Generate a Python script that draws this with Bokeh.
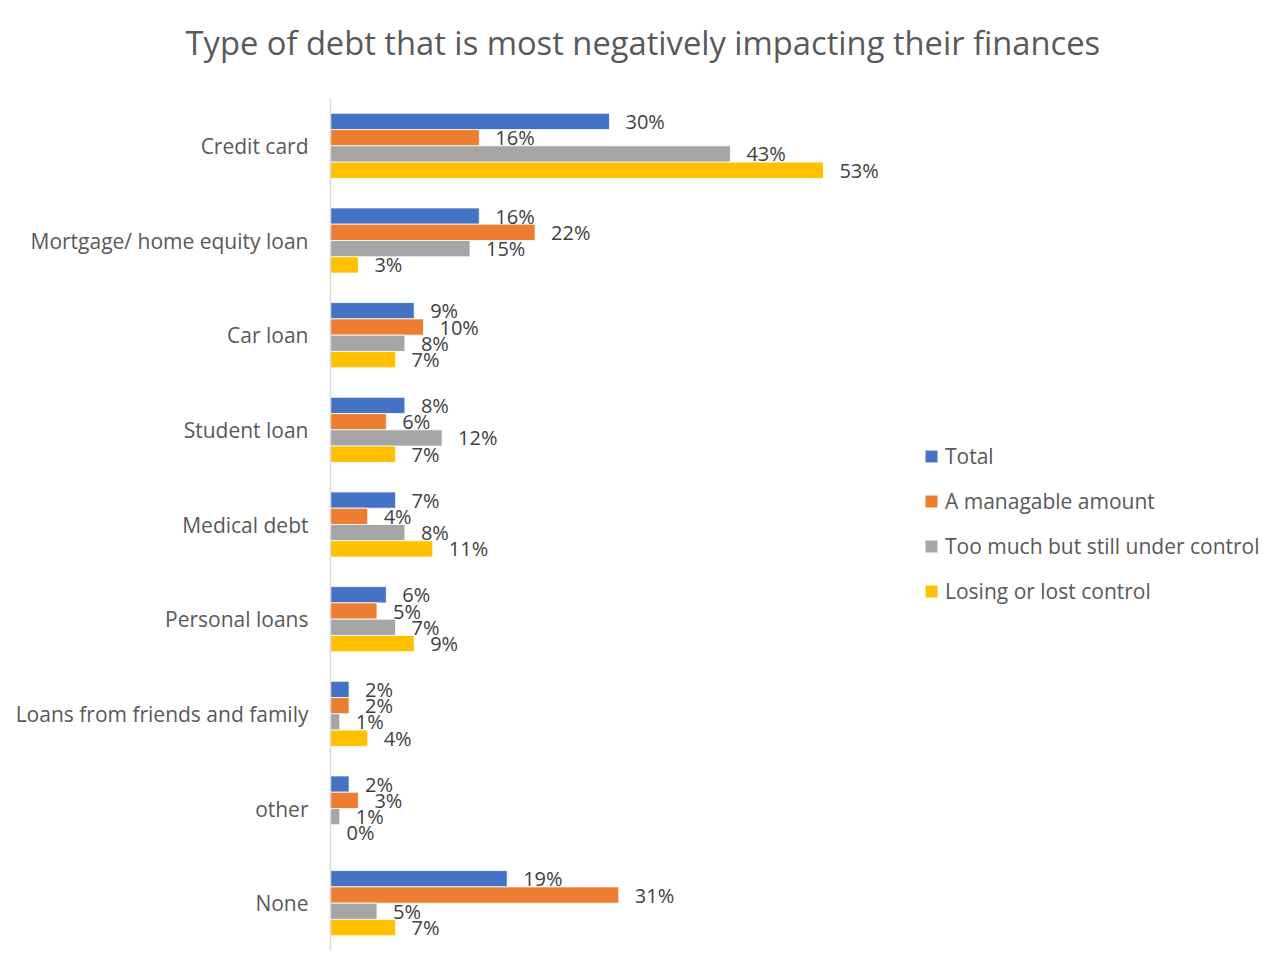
from bokeh.plotting import figure
from bokeh.models import ColumnDataSource, FactorRange, Legend, LegendItem, LabelSet, Title
from bokeh.transform import dodge
from bokeh.core.properties import value
from bokeh.embed import file_html
from bokeh.resources import INLINE

title_text = "Type of debt that is most negatively impacting their finances"
categories = ["Credit card", "Mortgage/ home equity loan", "Car loan", "Student loan",
              "Medical debt", "Personal loans", "Loans from friends and family", "other", "None"]
series_names = ["Total", "A managable amount", "Too much but still under control", "Losing or lost control"]
total = [30, 16, 9, 8, 7, 6, 2, 2, 19]
manageable = [16, 22, 10, 6, 4, 5, 2, 3, 31]
too_much = [43, 15, 8, 12, 8, 7, 1, 1, 5]
losing = [53, 3, 7, 7, 11, 9, 4, 0, 7]
colors = ["#4472C4", "#ED7D31", "#A5A5A5", "#FFC000"]

FONT = "Open Sans"
W, H = 1275, 971
frame_left, frame_right = 330, 1267
top_border, bottom_border = 98, 21
px_per_pct = 9.3
xmax = (frame_right - frame_left) / px_per_pct

p = figure(width=W, height=H, output_backend="svg", toolbar_location=None,
           title=None,
           y_range=FactorRange(*reversed(categories), range_padding=0),
           x_range=(0, xmax),
           min_border_left=frame_left, min_border_right=W - frame_right,
           min_border_top=top_border, min_border_bottom=bottom_border)

# invisible spacer between frame and title, then the title itself
p.add_layout(Title(text=" ", text_font_size="10px", standoff=21, text_color="#FFFFFF"), "above")
p.add_layout(Title(text=title_text, align="left", offset=185 - frame_left, standoff=0,
                   text_font=FONT, text_font_size="32.7px", text_font_style="normal",
                   text_color="#595959"), "above")

p.outline_line_color = None
p.xgrid.grid_line_color = None
p.ygrid.grid_line_color = None
p.xaxis.visible = False
ax = p.yaxis[0]
ax.axis_line_color = "#D9D9D9"
ax.axis_line_width = 1.5
ax.major_tick_line_color = None
ax.minor_tick_line_color = None
ax.major_label_text_font = FONT
ax.major_label_text_font_size = "21px"
ax.major_label_text_color = "#595959"
ax.major_label_standoff = 16

src = ColumnDataSource(dict(cat=categories, s0=total, s1=manageable, s2=too_much, s3=losing,
                            l0=[f"{v}%" for v in total], l1=[f"{v}%" for v in manageable],
                            l2=[f"{v}%" for v in too_much], l3=[f"{v}%" for v in losing]))

bh = 0.172
offsets = [1.5 * bh, 0.5 * bh, -0.5 * bh, -1.5 * bh]
items = []
for i in range(4):
    r = p.hbar(y=dodge("cat", offsets[i], range=p.y_range), right=f"s{i}", left=0, height=bh,
               source=src, fill_color=colors[i], line_color="white", line_width=0.8)
    items.append(LegendItem(label=series_names[i], renderers=[r]))
    lbl = LabelSet(x=f"s{i}", y=dodge("cat", offsets[i], range=p.y_range), text=f"l{i}",
                   source=src, x_offset=16, text_baseline="middle", text_align="left",
                   text_font=value(FONT), text_font_size=value("20px"), text_color="#404040")
    p.add_layout(lbl)

legend = Legend(items=items, location=(593, 345), orientation="vertical",
                glyph_width=16, glyph_height=16, label_standoff=6, spacing=17,
                padding=0, margin=0, border_line_color=None, background_fill_alpha=0,
                label_text_font=FONT, label_text_font_size="21px", label_text_color="#595959",
                label_height=20)
p.add_layout(legend, "center")

open("out.html", "w").write(file_html(p, INLINE))
